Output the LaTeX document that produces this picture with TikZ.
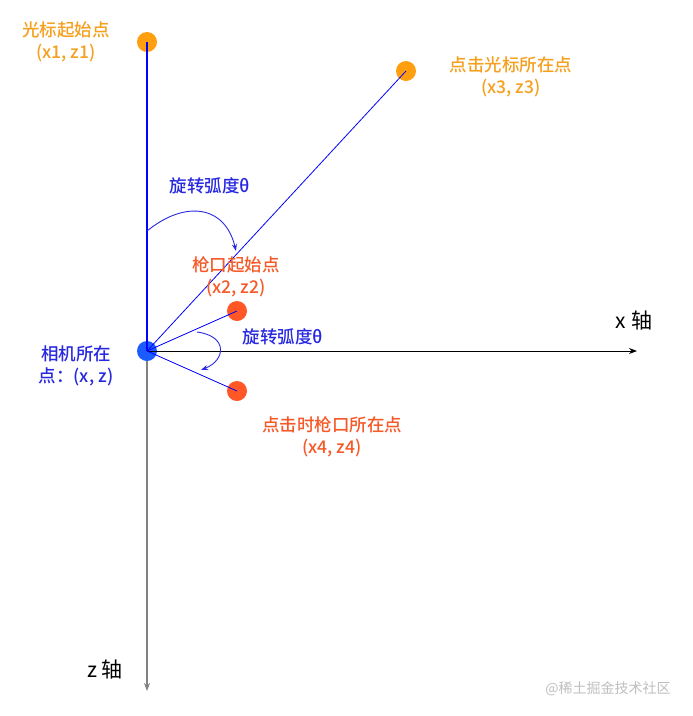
\documentclass[tikz,border=0pt]{standalone}
\usepackage{fontspec}
\setmainfont{Noto Sans CJK SC}[BoldFont={Noto Sans CJK SC Medium}]
\usetikzlibrary{arrows.meta}
\definecolor{ptorange}{RGB}{255,159,15}
\definecolor{ptred}{RGB}{255,87,38}
\definecolor{ptblue}{RGB}{26,92,255}
\definecolor{txtorange}{RGB}{245,160,30}
\definecolor{txtred}{RGB}{245,90,40}
\definecolor{txtblue}{RGB}{40,40,225}
\definecolor{axisgrey}{RGB}{130,130,130}
\tikzset{
  dot/.style={circle,inner sep=0pt,minimum size=20pt,draw=none},
  lbl/.style={font=\fontsize{17.5}{22}\selectfont\bfseries,align=center,inner sep=0pt},
  axlbl/.style={font=\fontsize{21}{23}\selectfont,inner sep=0pt},
  ray/.style={draw=blue,line width=0.8pt},
  rot/.style={draw=txtblue,line width=0.9pt,-{Stealth[length=7pt,width=5pt]}},
}
\begin{document}
\begin{tikzpicture}[x=1pt,y=-1pt]
\useasboundingbox (0,0) rectangle (693,716);
\fill[white] (0,0) rectangle (693,716);
% points
\node[dot,fill=ptorange] (p1) at (147,42) {};
\node[dot,fill=ptorange] (p3) at (406,71) {};
\node[dot,fill=ptred] (p2) at (237,311) {};
\node[dot,fill=ptred] (p4) at (237,391) {};
\node[dot,fill=ptblue] (cam) at (147,351) {};
\coordinate (xend) at (637,351);
\coordinate (zend) at (147,691);
% axes
\draw[black,line width=0.9pt,-{Stealth[length=8pt,width=6pt]}] (cam.center) -- (xend);
\draw[axisgrey,line width=1.6pt,-{Stealth[length=8pt,width=6pt]},shorten <=10pt] (cam.center) -- (zend);
% rays
\draw[blue,line width=1.1pt] (cam.center) -- (p1.center);
\draw[ray] (cam.center) -- (p3.center);
\draw[ray] (cam.center) -- (p2.center);
\draw[ray] (cam.center) -- (p4.center);
% rotation arcs
\coordinate (a1s) at (147,231);
\coordinate (a1e) at (236,251);
\draw[rot] (a1s) .. controls (185,200) and (225,205) .. (a1e);
\coordinate (a2s) at (197,332);
\coordinate (a2e) at (201,370);
\draw[rot] (a2s) .. controls (228,336) and (226,360) .. (a2e);
% labels
\node[lbl,text=txtorange] (l1) at (66,42) {光标起始点\\(x1, z1)};
\node[lbl,text=txtorange] (l3) at (511,77) {点击光标所在点\\(x3, z3)};
\node[lbl,text=txtblue] (r1) at (210,186) {旋转弧度θ};
\node[lbl,text=txtred] (l2) at (236,277) {枪口起始点\\(x2, z2)};
\node[lbl,text=txtblue] (r2) at (283,337) {旋转弧度θ};
\node[lbl,text=txtred] (l4) at (332,437) {点击时枪口所在点\\(x4, z4)};
\node[lbl,text=txtblue] (lc) at (76,366) {相机所在\\点：(x, z)};
\node[axlbl] (xl) at (634,321) {x 轴};
\node[axlbl] (zl) at (105,670) {z 轴};
\node[font=\fontsize{14}{16}\selectfont,text=black!25,inner sep=0pt] (wm) at (608,689) {@稀土掘金技术社区};
\end{tikzpicture}
\end{document}
